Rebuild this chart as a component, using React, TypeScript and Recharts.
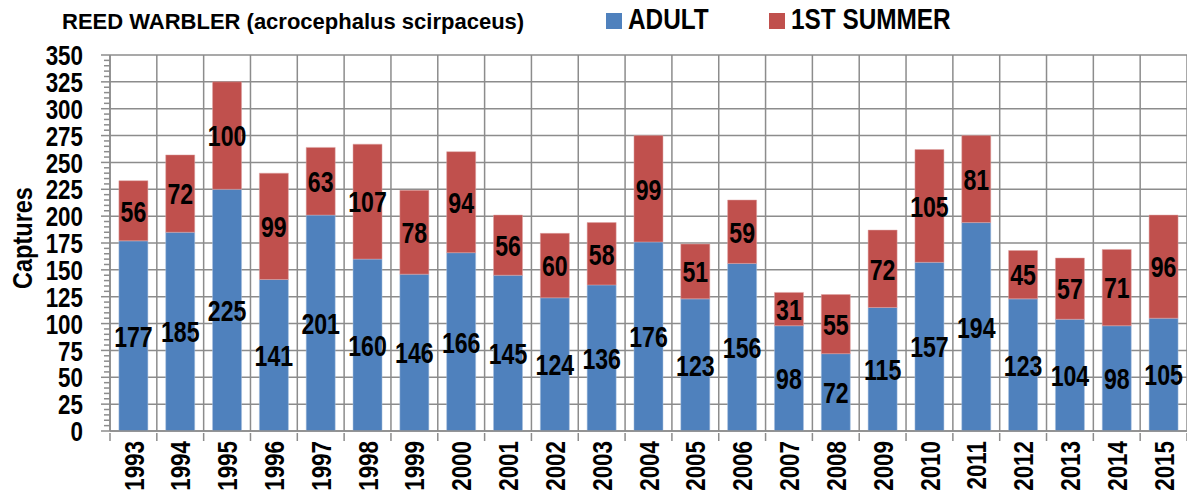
import React from 'react';
import { BarChart, Bar, XAxis, YAxis, CartesianGrid, LabelList, Legend } from 'recharts';

const years = ['1993', '1994', '1995', '1996', '1997', '1998', '1999', '2000', '2001', '2002', '2003', '2004',
  '2005', '2006', '2007', '2008', '2009', '2010', '2011', '2012', '2013', '2014', '2015'];
const adult = [177, 185, 225, 141, 201, 160, 146, 166, 145, 124, 136, 176, 123, 156, 98, 72, 115, 157, 194, 123, 104, 98, 105];
const firstSummer = [56, 72, 100, 99, 63, 107, 78, 94, 56, 60, 58, 99, 51, 59, 31, 55, 72, 105, 81, 45, 57, 71, 96];
const yTicks = [0, 25, 50, 75, 100, 125, 150, 175, 200, 225, 250, 275, 300, 325, 350];
const minorStep = 5;
const seriesOrder = ['adult', 'firstSummer'];

const W = 1187;
const H = 493;
const YAXIS_W = 110;
const XAXIS_H = 62;
const TOP = 55;
const GRID = '#8c8c8c';
const BLUE = '#4f81bd';
const RED = '#c0504d';
const SANS = '"Liberation Sans", Arial, sans-serif';
// no narrow face installed, so squeeze the bold sans horizontally
const SQ = 0.8;

const chartData = years.map((year, i) => ({ year, adult: adult[i], firstSummer: firstSummer[i] }));
const allTicks = Array.from({ length: 350 / minorStep + 1 }, (_, i) => i * minorStep);

const Narrow = ({ x, y, size, anchor = 'middle', rotate = 0, sq = SQ, children }: any) => (
  <g transform={`translate(${x}, ${y}) rotate(${rotate}) scale(${sq}, 1)`}>
    <text x={0} y={0} dy="0.36em" textAnchor={anchor} fontFamily={SANS} fontWeight="bold" fontSize={size} fill="#000">
      {children}
    </text>
  </g>
);

const YTick = (props: any) => {
  const { y, payload } = props;
  const v = payload.value;
  const major = v % 25 === 0;
  return (
    <g>
      <line x1={YAXIS_W - (major ? 9 : 6)} x2={YAXIS_W} y1={y} y2={y} stroke={GRID} strokeWidth={1.5} />
      {major && <Narrow x={YAXIS_W - 27} y={y} size={28} anchor="end">{v}</Narrow>}
    </g>
  );
};

const XTick = (props: any) => {
  const { x, y, payload, index } = props;
  const half = payload.offset || (W - YAXIS_W) / years.length / 2;
  return (
    <g>
      <line x1={x - half} x2={x - half} y1={y} y2={y + 8} stroke={GRID} strokeWidth={1.5} />
      {index === years.length - 1 && (
        <line x1={x + half} x2={x + half} y1={y} y2={y + 8} stroke={GRID} strokeWidth={1.5} />
      )}
      <Narrow x={x} y={y + 8} size={28} anchor="end" rotate={-90}>{payload.value}</Narrow>
    </g>
  );
};

const BarLabel = (props: any) => {
  const { x, y, width, height, value } = props;
  return <Narrow x={x + width / 2} y={y + height / 2} size={30} sq={0.77}>{value}</Narrow>;
};

const LegendContent = (props: any) => {
  const items = [...(props.payload || [])].sort(
    (a: any, b: any) => seriesOrder.indexOf(a.dataKey) - seriesOrder.indexOf(b.dataKey));
  const lefts = [606, 769];
  return (
    <div style={{ position: 'relative', width: W, height: 45 }}>
      {items.map((it: any, i: number) => (
        <div key={it.value}>
          <div style={{ position: 'absolute', left: lefts[i], top: 13, width: 16, height: 16, background: it.color }} />
          <div style={{ position: 'absolute', left: lefts[i] + 22, top: 5, fontFamily: SANS, fontWeight: 'bold', fontSize: 29, lineHeight: '29px', color: '#000', whiteSpace: 'nowrap', transform: 'scaleX(0.84)', transformOrigin: 'left top' }}>
            {it.value}
          </div>
        </div>
      ))}
    </div>
  );
};

const CapturesLabel = () => <Narrow x={22} y={238} size={28} rotate={-90} sq={0.84}>Captures</Narrow>;

export default function App() {
  return (
    <div style={{ position: 'absolute', left: 0, top: 0, width: W, height: H, background: '#fff' }}>
      <div style={{ position: 'absolute', left: 62, top: 11, fontFamily: SANS, fontWeight: 'bold', fontSize: 22, lineHeight: '22px', color: '#000', whiteSpace: 'nowrap', zIndex: 2 }}>
        REED WARBLER (acrocephalus scirpaceus)
      </div>
      <BarChart width={W} height={H} data={chartData} margin={{ top: TOP, right: 0, left: 0, bottom: 0 }} barCategoryGap="19%">
        <CartesianGrid
          stroke={GRID}
          strokeWidth={1.5}
          horizontalValues={yTicks}
          verticalCoordinatesGenerator={({ offset }: any) =>
            years.map((_, i) => offset.left + (i * offset.width) / years.length).concat(offset.left + offset.width)}
        />
        <XAxis dataKey="year" interval={0} tickLine={false} tickSize={0} height={XAXIS_H}
          axisLine={{ stroke: GRID, strokeWidth: 1.5 }} tick={<XTick />} />
        <YAxis type="number" domain={[0, 350]} ticks={allTicks} interval={0} width={YAXIS_W}
          tickLine={false} axisLine={{ stroke: GRID, strokeWidth: 1.5 }} tick={<YTick />}
          label={<CapturesLabel />} />
        <Legend verticalAlign="middle" align="center" layout="horizontal" content={<LegendContent />}
          wrapperStyle={{ top: 0, left: 0, width: W, height: 45 }} />
        <Bar dataKey="adult" name="ADULT" stackId="a" fill={BLUE} stroke="#a9c0de" strokeWidth={0.5} isAnimationActive={false}>
          <LabelList dataKey="adult" content={<BarLabel />} />
        </Bar>
        <Bar dataKey="firstSummer" name="1ST SUMMER" stackId="a" fill={RED} stroke="#dea5a4" strokeWidth={0.5} isAnimationActive={false}>
          <LabelList dataKey="firstSummer" content={<BarLabel />} />
        </Bar>
      </BarChart>
    </div>
  );
}
